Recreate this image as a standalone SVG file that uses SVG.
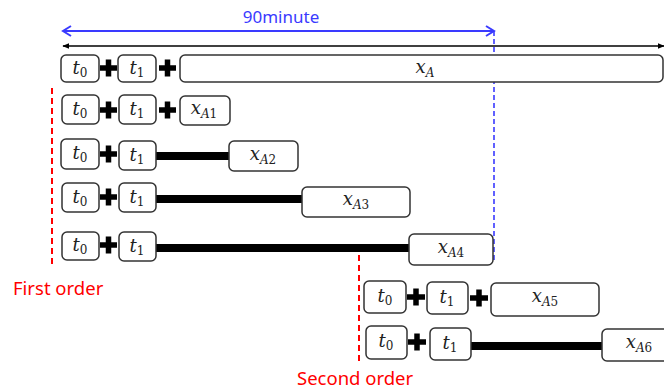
<svg xmlns="http://www.w3.org/2000/svg" width="664" height="392" viewBox="0 0 664 392">
<defs>
<marker id="blk" viewBox="0 0 10 10" refX="9" refY="5" markerWidth="7" markerHeight="7" orient="auto-start-reverse" markerUnits="userSpaceOnUse"><path d="M0,1 L10,5 L0,9 Z" fill="#000"/></marker>
<marker id="blu" viewBox="0 0 12 12" refX="10" refY="6" markerWidth="12" markerHeight="12" orient="auto-start-reverse" markerUnits="userSpaceOnUse"><path d="M2,1 L10,6 L2,11" fill="none" stroke="#3a3aff" stroke-width="2"/></marker>
</defs>
<style>
.box{fill:#fff;stroke:#333;stroke-width:1.5}
.m{font-family:"DejaVu Serif","Liberation Serif",serif;font-style:italic;font-size:18px;fill:#222;text-anchor:middle}
.s{font-size:12px;font-style:normal}
.si{font-size:12px;font-style:italic}
.plus{stroke:#000;stroke-width:5.5;fill:none}
.bar{stroke:#000;stroke-width:8}
.red{stroke:#f00;stroke-width:2;stroke-dasharray:6 4;fill:none}
.lbl{font-family:"Noto Sans","Liberation Sans",sans-serif;font-size:17px}
.rl{font-size:18.5px}
</style>
<rect width="664" height="392" fill="#fff"/>
<g id="connectors">
<line x1="63" y1="31" x2="494" y2="31" stroke="#3a3aff" stroke-width="2" marker-start="url(#blu)" marker-end="url(#blu)"/>
<line x1="494" y1="31" x2="494" y2="262" stroke="#3a3aff" stroke-width="1.6" stroke-dasharray="5 3"/>
<line x1="63" y1="46" x2="664" y2="46" stroke="#000" stroke-width="1.5" marker-start="url(#blk)" marker-end="url(#blk)"/>
<line class="red" x1="52" y1="88" x2="52" y2="264"/>
<line class="red" x1="359" y1="255" x2="359" y2="362"/>
<line class="bar" x1="156" y1="156" x2="230" y2="156"/>
<line class="bar" x1="156" y1="199" x2="303" y2="199"/>
<line class="bar" x1="156" y1="248" x2="410" y2="248"/>
<line class="bar" x1="471" y1="346" x2="603" y2="346"/>
</g>
<g id="labels">
<text class="lbl" x="281" y="23" fill="#3a3aff" text-anchor="middle">90minute</text>
<text class="lbl rl" x="13" y="295" fill="#f00">First order</text>
<text class="lbl rl" x="297" y="385" fill="#f00">Second order</text>
</g>
<g id="row0">
<rect class="box" x="61" y="55" width="38" height="27" rx="5"/><text class="m" x="80" y="74">t<tspan class="s" dy="3">0</tspan></text>
<path class="plus" d="M100,68 H117 M108.5,59.5 V76.5"/>
<rect class="box" x="118" y="55" width="38" height="27" rx="5"/><text class="m" x="137" y="74">t<tspan class="s" dy="3">1</tspan></text>
<path class="plus" d="M159,68 H176 M167.5,59.5 V76.5"/>
<rect class="box" x="180" y="55" width="483" height="27" rx="5"/><text class="m" x="425" y="73">x<tspan class="si" dy="4">A</tspan></text>
</g>
<g id="row1">
<rect class="box" x="62" y="95" width="37" height="29" rx="5"/><text class="m" x="80" y="115">t<tspan class="s" dy="3">0</tspan></text>
<path class="plus" d="M100,110 H117 M108.5,101.5 V118.5"/>
<rect class="box" x="119" y="95" width="37" height="29" rx="5"/><text class="m" x="137" y="115">t<tspan class="s" dy="3">1</tspan></text>
<path class="plus" d="M159,110 H176 M167.5,101.5 V118.5"/>
<rect class="box" x="180" y="96" width="50" height="29" rx="5"/><text class="m" x="204" y="114">x<tspan class="si" dy="4">A</tspan><tspan class="s">1</tspan></text>
</g>
<g id="row2">
<rect class="box" x="61" y="139" width="38" height="30" rx="5"/><text class="m" x="80" y="159">t<tspan class="s" dy="3">0</tspan></text>
<path class="plus" d="M100,154 H117 M108.5,145.5 V162.5"/>
<rect class="box" x="119" y="141" width="37" height="29" rx="5"/><text class="m" x="137" y="161">t<tspan class="s" dy="3">1</tspan></text>
<rect class="box" x="229" y="141" width="69" height="30" rx="5"/><text class="m" x="263" y="160">x<tspan class="si" dy="4">A</tspan><tspan class="s">2</tspan></text>
</g>
<g id="row3">
<rect class="box" x="62" y="183" width="37" height="29" rx="5"/><text class="m" x="80" y="203">t<tspan class="s" dy="3">0</tspan></text>
<path class="plus" d="M100,197 H117 M108.5,188.5 V205.5"/>
<rect class="box" x="119" y="183" width="37" height="29" rx="5"/><text class="m" x="137" y="203">t<tspan class="s" dy="3">1</tspan></text>
<rect class="box" x="302" y="187" width="108" height="30" rx="5"/><text class="m" x="356" y="205">x<tspan class="si" dy="4">A</tspan><tspan class="s">3</tspan></text>
</g>
<g id="row4">
<rect class="box" x="62" y="232" width="37" height="28" rx="5"/><text class="m" x="80" y="251">t<tspan class="s" dy="3">0</tspan></text>
<path class="plus" d="M100,245 H117 M108.5,236.5 V253.5"/>
<rect class="box" x="119" y="232" width="37" height="29" rx="5"/><text class="m" x="137" y="252">t<tspan class="s" dy="3">1</tspan></text>
<rect class="box" x="409" y="234" width="84" height="31" rx="5"/><text class="m" x="451" y="253">x<tspan class="si" dy="4">A</tspan><tspan class="s">4</tspan></text>
</g>
<g id="row5">
<rect class="box" x="364" y="281" width="42" height="32" rx="5"/><text class="m" x="385" y="302">t<tspan class="s" dy="3">0</tspan></text>
<path class="plus" d="M407,297 H425 M416,288.5 V305.5"/>
<rect class="box" x="427" y="282" width="41" height="32" rx="5"/><text class="m" x="447" y="303">t<tspan class="s" dy="3">1</tspan></text>
<path class="plus" d="M470,298 H488 M479,289.5 V306.5"/>
<rect class="box" x="491" y="283" width="108" height="33" rx="5"/><text class="m" x="545" y="302">x<tspan class="si" dy="4">A</tspan><tspan class="s">5</tspan></text>
</g>
<g id="row6">
<rect class="box" x="366" y="326" width="41" height="33" rx="5"/><text class="m" x="386" y="347">t<tspan class="s" dy="3">0</tspan></text>
<path class="plus" d="M408,342 H426 M417,333.5 V350.5"/>
<rect class="box" x="430" y="328" width="41" height="32" rx="5"/><text class="m" x="450" y="349">t<tspan class="s" dy="3">1</tspan></text>
<rect class="box" x="602" y="329" width="72" height="32" rx="5"/><text class="m" x="639" y="348">x<tspan class="si" dy="4">A</tspan><tspan class="s">6</tspan></text>
</g>
</svg>
